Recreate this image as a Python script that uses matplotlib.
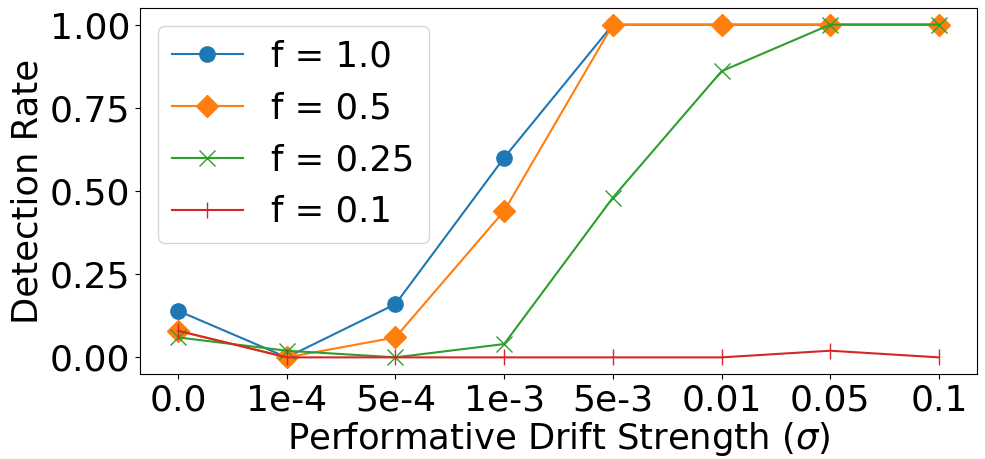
import numpy as np
import matplotlib.pyplot as plt

# drift strengths (categorical x axis)
drift_labels = ['0.0', '1e-4', '5e-4', '1e-3', '5e-3', '0.01', '0.05', '0.1']

# detection rates per fraction f
rate_f10 = [0.14, 0.00, 0.16, 0.60, 1.00, 1.00, 1.00, 1.00]
rate_f05 = [0.08, 0.00, 0.06, 0.44, 1.00, 1.00, 1.00, 1.00]
rate_f025 = [0.06, 0.02, 0.00, 0.04, 0.48, 0.86, 1.00, 1.00]
rate_f01 = [0.08, 0.00, 0.00, 0.00, 0.00, 0.00, 0.02, 0.00]

x = np.arange(len(drift_labels))

fig = plt.figure(figsize=(9.85, 4.59), dpi=100)
ax = fig.add_axes([140 / 985, 1 - 374 / 459, (977 - 140) / 985, (374 - 8) / 459])

ax.plot(x, rate_f10, marker='o', markersize=11, color='#1f77b4', label='f = 1.0')
ax.plot(x, rate_f05, marker='D', markersize=11, color='#ff7f0e', label='f = 0.5')
ax.plot(x, rate_f025, marker='x', markersize=11, color='#2ca02c', label='f = 0.25')
ax.plot(x, rate_f01, marker='|', markersize=11, color='#d62728', label='f = 0.1')

ax.set_xticks(x)
ax.set_xticklabels(drift_labels)
ax.set_yticks([0.0, 0.25, 0.5, 0.75, 1.0])
ax.set_yticklabels(['0.00', '0.25', '0.50', '0.75', '1.00'])
ax.set_ylim(-0.05, 1.05)
ax.tick_params(labelsize=26)
ax.set_xlabel(r'Performative Drift Strength ($\sigma$)', fontsize=25.5, labelpad=2)
ax.set_ylabel('Detection Rate', fontsize=25.5)
ax.legend(loc='upper left', fontsize=25.5)

fig.savefig('out.png')
